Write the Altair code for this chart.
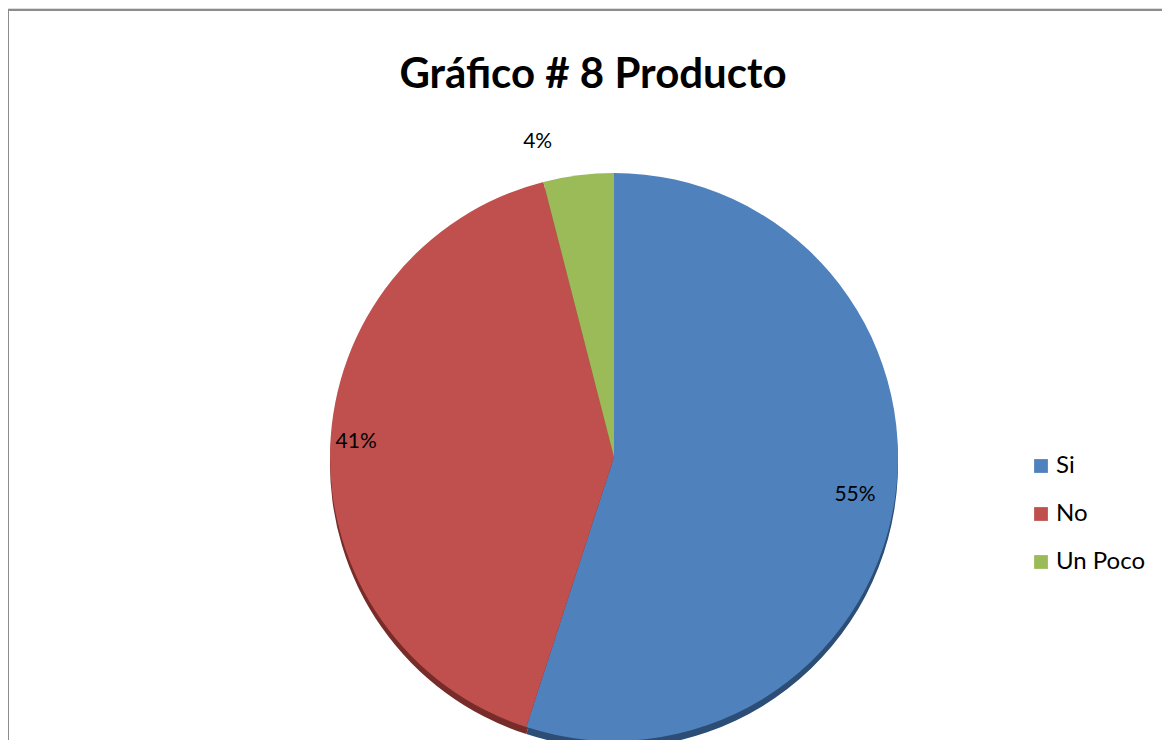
import altair as alt
import pandas as pd

categories = ["Si", "No", "Un Poco"]
values = [55, 41, 4]
labels = ["55%", "41%", "4%"]
colors = ["#4F81BD", "#C0504D", "#9BBB59"]
shadow_colors = ["#2c4d75", "#772c2a", "#5c7033"]
title_text = "Gráfico # 8 Producto"

df = pd.DataFrame({"cat": categories, "val": values, "lab": labels, "ord": [0, 1, 2]})

CX, CY, R = 606, 449, 284

theta = alt.Theta("val:Q", stack=True)
order = alt.Order("ord:Q", sort="ascending")

shadow = alt.Chart(df).mark_arc(radius=R, stroke=None).encode(
    theta=theta, order=order,
    color=alt.Color("cat:N", scale=alt.Scale(domain=categories, range=shadow_colors), legend=None),
    x=alt.value(CX), y=alt.value(CY + 7),
)

pie = alt.Chart(df).mark_arc(radius=R, stroke=None).encode(
    theta=theta, order=order,
    color=alt.Color("cat:N", scale=alt.Scale(domain=categories, range=colors),
                    legend=alt.Legend(title=None, orient="none", legendX=1021, legendY=446,
                                      symbolType="square", symbolSize=190, symbolStrokeWidth=0,
                                      labelFont="Lato", labelFontSize=24, labelColor="#000000",
                                      rowPadding=24, labelOffset=3)),
    x=alt.value(CX), y=alt.value(CY),
)


def label_layer(cat, radius, dx=0, dy=0):
    return alt.Chart(df).mark_text(
        radius=radius, font="Lato", fontSize=21, color="#000000", dx=dx, dy=dy).encode(
        theta=theta, order=order,
        text=alt.condition(alt.datum.cat == cat, "lab:N", alt.value("")),
        x=alt.value(CX), y=alt.value(CY),
    )


lab_si = label_layer("Si", 244, 0, 0)
lab_no = label_layer("No", 258, 0, -7)
lab_up = label_layer("Un Poco", 322, -36, 4)

title = alt.Chart(df).transform_filter(alt.datum.ord == 0).mark_text(
    font="Lato", fontSize=42, fontWeight="bold", color="#000000", baseline="alphabetic").encode(
    text=alt.value(title_text), x=alt.value(585), y=alt.value(80),
)

border_left = alt.Chart(df).transform_filter(alt.datum.ord == 0).mark_rule(
    color="#8c8c8c", strokeWidth=2).encode(
    x=alt.value(0), y=alt.value(2), y2=alt.value(732))
border_top = alt.Chart(df).transform_filter(alt.datum.ord == 0).mark_rule(
    color="#8c8c8c", strokeWidth=2).encode(
    x=alt.value(0), x2=alt.value(1154), y=alt.value(2))

chart = alt.layer(border_left, border_top, shadow, pie, lab_si, lab_no, lab_up, title).resolve_scale(
    color="independent"
).properties(
    width=1154, height=732, autosize=alt.AutoSizeParams(type="none"), padding=0
).configure_view(stroke=None).configure(background="white")

chart.save("out.html", embed_options={"renderer": "svg", "actions": False})
